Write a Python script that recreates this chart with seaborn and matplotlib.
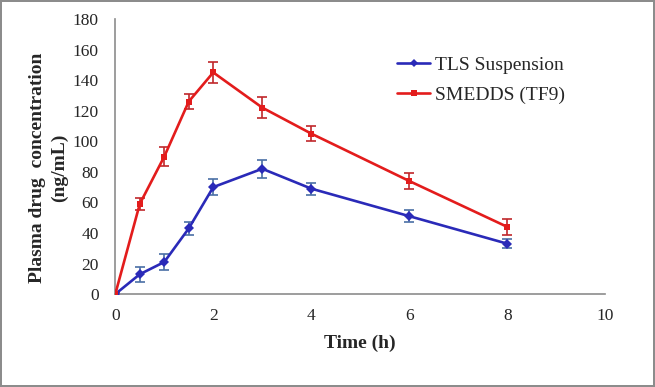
import numpy as np
import pandas as pd
import matplotlib.pyplot as plt
import seaborn as sns

time_h = [0, 0.5, 1, 1.5, 2, 3, 4, 6, 8]
tls_mean = [0, 13, 21, 43, 70, 82, 69, 51, 33]
tls_sd = [1, 5, 5, 4, 5, 6, 4, 4, 3]
smedds_mean = [0, 59, 90, 126, 145, 122, 105, 74, 44]
smedds_sd = [1, 4, 6, 5, 7, 7, 5, 5, 5]
series_names = ["TLS Suspension", "SMEDDS (TF9)"]

df = pd.concat([
    pd.DataFrame({"time": time_h, "conc": tls_mean, "sd": tls_sd, "group": series_names[0]}),
    pd.DataFrame({"time": time_h, "conc": smedds_mean, "sd": smedds_sd, "group": series_names[1]}),
])

sns.set_style("white")
plt.rcParams["font.family"] = ["Liberation Serif", "DejaVu Serif"]

fig = plt.figure(figsize=(6.55, 3.87), dpi=100)
fig.patch.set_edgecolor("#8c8c8c")
fig.patch.set_linewidth(1.5)
ax = fig.add_axes([0.176, 0.240, 0.748, 0.711])

line_colors = {series_names[0]: "#2a2ab8", series_names[1]: "#e31c1c"}
err_colors = {series_names[0]: "#4a6fa5", series_names[1]: "#c0282b"}

for name, sub in df.groupby("group", sort=False):
    ax.errorbar(sub["time"], sub["conc"], yerr=sub["sd"], fmt="none",
                ecolor=err_colors[name], elinewidth=1.2, capsize=3.5, capthick=1.2, zorder=2)

sns.lineplot(data=df, x="time", y="conc", hue="group", style="group",
             palette=line_colors, markers={series_names[0]: "D", series_names[1]: "s"},
             dashes=False, markersize=5, markeredgewidth=0, linewidth=1.9,
             ax=ax, zorder=3)

ax.set_xlim(0, 10)
ax.set_ylim(0, 180)
ax.set_xticks(range(0, 11, 2))
ax.set_yticks(range(0, 181, 20))
ax.tick_params(axis="x", length=0, labelsize=12.5, pad=10)
ax.tick_params(axis="y", length=0, labelsize=12.5, pad=12)
for s in ["top", "right"]:
    ax.spines[s].set_visible(False)
for s in ["left", "bottom"]:
    ax.spines[s].set_color("#8c8c8c")
    ax.spines[s].set_linewidth(1.2)

ax.set_xlabel("Time (h)", fontsize=14, fontweight="bold", labelpad=8)
ax.set_ylabel("Plasma drug  concentration\n(ng/mL)", fontsize=14, fontweight="bold",
              linespacing=1.35)
ax.yaxis.set_label_coords(-0.097, 0.46)

leg = ax.legend(loc="upper left", bbox_to_anchor=(0.54, 0.927), frameon=False,
                fontsize=14, handlelength=1.7, handletextpad=0.25, labelspacing=0.62)
for h in leg.legend_handles:
    h.set_markersize(4)

fig.savefig("out.png", dpi=100)
